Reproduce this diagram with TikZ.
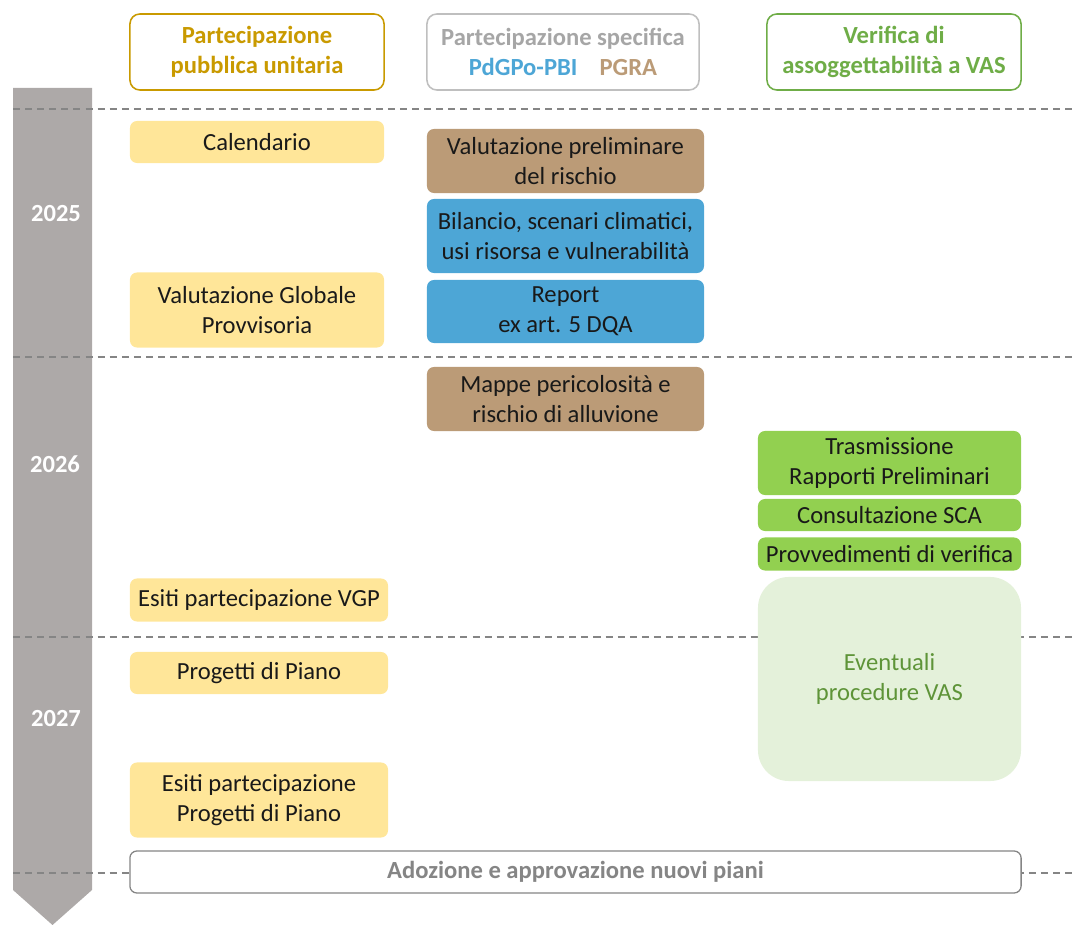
\documentclass[tikz,border=0pt]{standalone}
\usepackage{fontspec}
\setmainfont{Carlito}
\definecolor{bargray}{HTML}{ADA9A8}
\definecolor{dashgray}{HTML}{858585}
\definecolor{yellowfill}{HTML}{FFE699}
\definecolor{tanfill}{HTML}{BB9B77}
\definecolor{bluefill}{HTML}{4DA6D6}
\definecolor{greenfill}{HTML}{92D050}
\definecolor{palegreen}{HTML}{E4F1DA}
\definecolor{darkgreen}{HTML}{5E9438}
\definecolor{goldline}{HTML}{C99A00}
\definecolor{headgray}{HTML}{BFBFBF}
\definecolor{headgraytext}{HTML}{A6A6A6}
\definecolor{vasgreen}{HTML}{6FAD47}
\begin{document}
\begin{tikzpicture}
		[x=0.025cm,y=-0.025cm,
		box/.style={rounded corners=5pt,inner sep=0pt,align=center,text=black!90,
font=\fontsize{17.5}{21}\selectfont},
		headbox/.style={box,draw,fill=white,line width=1.1pt,rounded corners=7pt,
minimum height=1.9cm,font=\fontsize{17.5}{21}\selectfont\bfseries},
		yellowbox/.style={box,fill=yellowfill},
		tanbox/.style={box,fill=tanfill,minimum width=6.925cm},
		bluebox/.style={box,fill=bluefill,minimum width=6.925cm},
		greenbox/.style={box,fill=greenfill,minimum width=6.575cm},
		yearlabel/.style={text=white,font=\fontsize{17.5}{21}\selectfont\bfseries},
		divider/.style={dashgray,line width=1.3pt,dash pattern=on 5pt off 3.6pt}]
		\useasboundingbox (0,0) rectangle (1074,925);
		\fill[bargray] (13,88) -- (92,88) -- (92,890) -- (52.5,925) -- (13,890) -- cycle;
		\node at (56,214) (y2025) [yearlabel] {2025};
		\node at (55,464) (y2026) [yearlabel] {2026};
		\node at (56,719) (y2027) [yearlabel] {2027};
		\foreach \y in {109,357,637,873}
			\draw[divider] (13,\y) -- (1074,\y);
		\node at (257,52) (pubblica) [headbox,draw=goldline,text=goldline,minimum width=6.35cm]
			{Partecipazione\\pubblica unitaria};
		\node at (563,52) (specifica) [headbox,draw=headgray,minimum width=6.8cm]
			{\textcolor{headgraytext}{Partecipazione specifica}\\
			\textcolor{bluefill}{PdGPo-PBI}\hspace{0.9em}\textcolor{tanfill}{PGRA}};
		\node at (894,52) (verifica) [headbox,draw=vasgreen,text=vasgreen,minimum width=6.35cm]
			{Verifica di\\assoggettabilità a VAS};
		\node at (257,142) (calendario) [yellowbox,minimum width=6.35cm,minimum height=1.05cm] {Calendario};
		\node at (257,310) (vgp) [yellowbox,minimum width=6.35cm,minimum height=1.875cm]
			{Valutazione Globale\\Provvisoria};
		\node at (259,600) (esitivgp) [yellowbox,minimum width=6.45cm,minimum height=1.075cm]
			{Esiti partecipazione VGP};
		\node at (259,673) (progetti) [yellowbox,minimum width=6.45cm,minimum height=1.05cm]
			{Progetti di Piano};
		\node at (259,800) (esitipp) [yellowbox,minimum width=6.45cm,minimum height=1.875cm]
			{Esiti partecipazione\\Progetti di Piano};
		\node at (565.5,161) (preliminare) [tanbox,minimum height=1.6cm]
			{Valutazione preliminare\\del rischio};
		\node at (565.5,236) (bilancio) [bluebox,minimum height=1.85cm]
			{Bilancio, scenari climatici,\\usi risorsa e vulnerabilità};
		\node at (565.5,311.5) (report) [bluebox,minimum height=1.575cm]
			{Report\\ex art. 5 DQA};
		\node at (565.5,399) (mappe) [tanbox,minimum height=1.6cm]
			{Mappe pericolosità e\\rischio di alluvione};
		\node at (889.5,463) (trasmissione) [greenbox,minimum height=1.6cm]
			{Trasmissione\\Rapporti Preliminari};
		\node at (889.5,515) (consultazione) [greenbox,minimum height=0.8cm] {Consultazione SCA};
		\node at (889.5,554) (provvedimenti) [greenbox,minimum height=0.825cm]
			{Provvedimenti di verifica};
		\node at (889.5,679) (eventuali) [box,fill=palegreen,text=darkgreen,rounded corners=22pt,
minimum width=6.575cm,minimum height=5.1cm] {Eventuali\\procedure VAS};
		\node at (575.5,872) (adozione) [box,draw=dashgray,fill=white,line width=0.9pt,text=dashgray,
minimum width=22.275cm,minimum height=1.05cm,font=\fontsize{17.5}{21}\selectfont\bfseries]
			{Adozione e approvazione nuovi piani};
	\end{tikzpicture}
\end{document}
